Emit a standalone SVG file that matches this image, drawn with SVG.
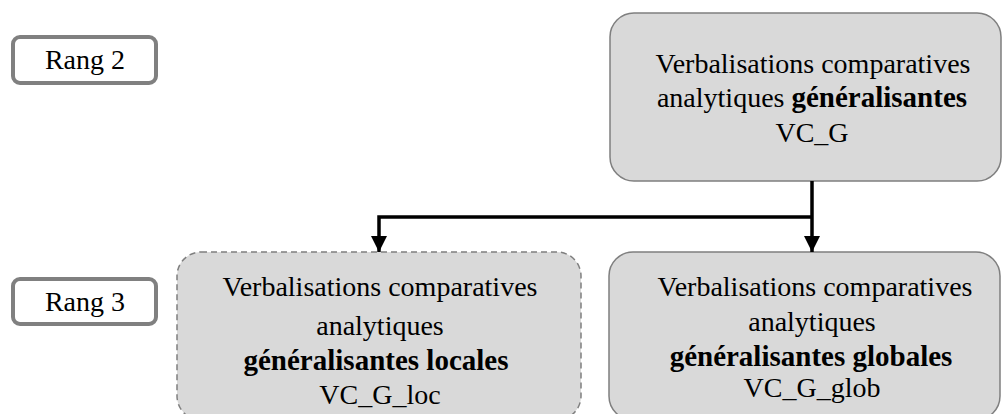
<svg xmlns="http://www.w3.org/2000/svg" width="1003" height="414" viewBox="0 0 1003 414">
<defs>
<style>
.t{font-family:"Liberation Serif","Times New Roman",serif;font-size:28px;fill:#000;text-anchor:middle}
.b{font-weight:bold;font-size:29px}
.rang{fill:#fff;stroke:#808080;stroke-width:4}
.rt{font-family:"Liberation Serif","Times New Roman",serif;font-size:28px;fill:#000;text-anchor:middle}
.box{fill:#d9d9d9;stroke:#7f7f7f;stroke-width:1.5}
.dash{stroke-dasharray:6 4}
.c{fill:none;stroke:#000;stroke-width:3.5}
</style>
<marker id="ah" markerUnits="userSpaceOnUse" markerWidth="16" markerHeight="16" viewBox="0 0 16 16" refX="16" refY="8" orient="auto">
<path d="M0,0 L16,8 L0,16 Z" fill="#000"/>
</marker>
</defs>
<rect width="1003" height="414" fill="#fff"/>
<g id="rang2">
<rect class="rang" x="13" y="37" width="143" height="46" rx="7"/>
<text class="rt" x="85" y="69">Rang 2</text>
</g>
<g id="rang3">
<rect class="rang" x="13" y="279" width="143" height="45" rx="7"/>
<text class="rt" x="85" y="311">Rang 3</text>
</g>
<g id="vc_g">
<rect class="box" x="610" y="13" width="391" height="168" rx="24"/>
<text class="t" x="813" y="73">Verbalisations comparatives</text>
<text class="t" x="812" y="107">analytiques <tspan class="b">généralisantes</tspan></text>
<text class="t" x="812" y="142">VC_G</text>
</g>
<g id="vc_g_loc">
<rect class="box dash" x="177" y="252" width="404" height="168" rx="24"/>
<text class="t" x="380" y="296">Verbalisations comparatives</text>
<text class="t" x="380" y="335">analytiques</text>
<text class="t b" x="376" y="370">généralisantes locales</text>
<text class="t" x="380" y="404">VC_G_loc</text>
</g>
<g id="vc_g_glob">
<rect class="box" x="609" y="252" width="391" height="168" rx="24"/>
<text class="t" x="815" y="296">Verbalisations comparatives</text>
<text class="t" x="812" y="331">analytiques</text>
<text class="t b" x="811" y="366">généralisantes globales</text>
<text class="t" x="812" y="397">VC_G_glob</text>
</g>
<g id="connectors">
<path class="c" d="M812,181 L812,252" marker-end="url(#ah)"/>
<path class="c" d="M812,217 L379,217 L379,252" marker-end="url(#ah)"/>
</g>
</svg>
